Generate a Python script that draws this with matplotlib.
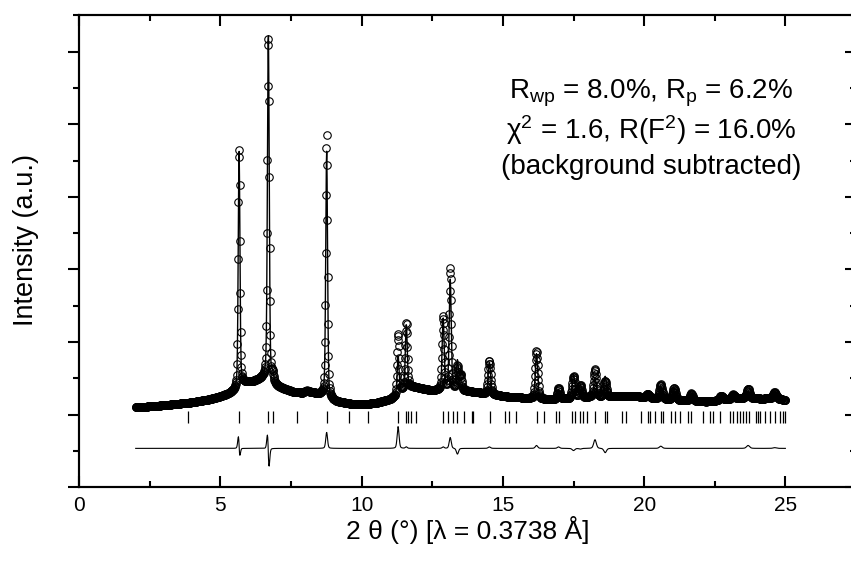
import numpy as np
import matplotlib
matplotlib.use("Agg")
import matplotlib.pyplot as plt
from matplotlib.ticker import MultipleLocator

plt.rcParams['font.family'] = ['Liberation Sans', 'DejaVu Sans']
plt.rcParams['mathtext.fontset'] = 'custom'
plt.rcParams['mathtext.rm'] = 'Liberation Sans'
plt.rcParams['mathtext.it'] = 'Liberation Sans:italic'
plt.rcParams['mathtext.default'] = 'regular'

# ---------------- data ----------------
scan_start, scan_end, scan_step = 2.0, 25.0, 0.0125   # measured 2theta grid

bg_x = [2.0, 3.0, 4.0, 4.6, 5.0, 5.3, 5.5, 5.6, 5.72, 5.9, 6.2, 6.5, 6.62,
        6.78, 6.95, 7.2, 7.6, 7.9, 8.05, 8.2, 8.5, 8.7, 8.85, 9.1, 9.6, 10.0,
        10.5, 11.0, 11.2, 11.4, 11.7, 12.0, 12.5, 12.8, 13.6, 14.0, 14.6,
        15.1, 15.8, 16.6, 17.3, 18.0, 18.9, 19.8, 20.5, 21.3, 22.2, 23.0,
        23.4, 24.2, 24.6, 25.0]
bg_y = [1.10, 1.13, 1.17, 1.21, 1.25, 1.29, 1.33, 1.36, 1.43, 1.44, 1.46,
        1.50, 1.53, 1.47, 1.40, 1.36, 1.31, 1.30, 1.33, 1.31, 1.28, 1.27,
        1.22, 1.18, 1.15, 1.14, 1.16, 1.21, 1.25, 1.33, 1.39, 1.37, 1.33,
        1.34, 1.33, 1.31, 1.28, 1.25, 1.23, 1.21, 1.22, 1.24, 1.25, 1.25,
        1.22, 1.20, 1.18, 1.21, 1.23, 1.22, 1.23, 1.20]

peak_pos   = [5.66, 6.695, 6.85, 8.76, 11.29, 11.58, 12.885, 13.135, 13.39,
              13.50, 14.52, 16.19, 16.97, 17.50, 17.74, 18.26, 18.62, 20.13,
              20.59, 21.06, 21.67, 22.73, 23.15, 23.68, 24.62]
peak_fwhm  = [0.07, 0.075, 0.08, 0.075, 0.08, 0.08, 0.085, 0.085, 0.09,
              0.09, 0.10, 0.10, 0.10, 0.11, 0.11, 0.11, 0.11, 0.12,
              0.12, 0.12, 0.12, 0.13, 0.13, 0.13, 0.13]
peak_hcalc = [3.24, 4.78, 0.10, 3.39, 0.52, 0.88, 0.98, 1.52, 0.40,
              0.20, 0.44, 0.62, 0.13, 0.33, 0.18, 0.26, 0.28, 0.05,
              0.17, 0.16, 0.10, 0.06, 0.06, 0.09, 0.07]
peak_hobs  = [3.29, 4.73, 0.10, 3.61, 0.82, 0.90, 1.00, 1.67, 0.32,
              0.20, 0.46, 0.66, 0.15, 0.30, 0.17, 0.38, 0.22, 0.05,
              0.20, 0.16, 0.10, 0.06, 0.06, 0.13, 0.08]
peak_dobs  = [-0.002, -0.0025, 0, 0, 0, 0, 0, 0, 0,
              0, 0, 0, 0, 0, 0, 0, 0, 0,
              0, 0, 0, 0, 0, 0, 0]

bragg_pos = [3.86, 5.66, 6.67, 6.85, 7.72, 8.76, 9.56, 10.21, 11.30, 11.56,
             11.65, 11.74, 11.94, 12.88, 13.05, 13.23, 13.38, 13.62, 13.89,
             13.95, 14.54, 15.07, 15.22, 15.46, 16.19, 16.46, 16.87, 16.99,
             17.43, 17.54, 17.72, 17.82, 17.96, 18.25, 18.61, 18.67, 19.20,
             19.35, 19.88, 20.14, 20.22, 20.38, 20.59, 20.67, 20.94, 21.11,
             21.26, 21.55, 21.67, 22.08, 22.32, 22.44, 22.70, 23.05, 23.15,
             23.27, 23.38, 23.50, 23.62, 23.71, 23.95, 24.03, 24.09, 24.27,
             24.45, 24.62, 24.80, 24.92, 24.98]

diff_offset = 0.536
bragg_low, bragg_high = 0.885, 1.045

text_lines = [r'R$_{\rm wp}$ = 8.0%, R$_{\rm p}$ = 6.2%',
              r'χ$^{2}$ = 1.6, R(F$^{2}$) = 16.0%',
              '(background subtracted)']

# ---------------- profiles ----------------
def pseudo_voigt(x, x0, w, eta=0.3):
    u = (x - x0) / w
    return eta / (1 + 4 * u**2) + (1 - eta) * np.exp(-4 * np.log(2) * u**2)

tt = np.arange(scan_start, scan_end + 1e-9, scan_step)
bg = np.interp(tt, bg_x, bg_y)
y_calc = bg.copy()
y_obs = bg.copy()
for p, w, hc, ho, d in zip(peak_pos, peak_fwhm, peak_hcalc, peak_hobs, peak_dobs):
    y_calc += hc * pseudo_voigt(tt, p, w)
    y_obs += ho * pseudo_voigt(tt, p + d, w)
y_diff = y_obs - y_calc + diff_offset

# ---------------- figure ----------------
fig = plt.figure(figsize=(8.51, 5.62), dpi=100)
ax = fig.add_axes([79.2 / 851, 1 - 487.3 / 562, (856 - 79.2) / 851, (487.3 - 15.3) / 562])

ax.plot(tt, y_obs, linestyle='none', marker='o', ms=5.4, mfc='none',
        mec='black', mew=0.8, zorder=2)
ax.plot(tt, y_calc, color='black', lw=1.0, zorder=3)
ax.plot(tt, y_diff, color='black', lw=0.8, zorder=3)
ax.vlines(bragg_pos, bragg_low, bragg_high, colors='black', lw=0.9)

ax.set_xlim(0, 27.5)
ax.set_ylim(0, 6.5)
ax.xaxis.set_major_locator(MultipleLocator(5))
ax.xaxis.set_minor_locator(MultipleLocator(2.5))
ax.yaxis.set_major_locator(MultipleLocator(1))
ax.yaxis.set_minor_locator(MultipleLocator(0.5))

for s in ax.spines.values():
    s.set_linewidth(1.5)

ax.tick_params(axis='x', which='both', direction='in', top=True, bottom=True,
               width=1.5, labelsize=15, pad=6)
ax.tick_params(axis='x', which='major', length=8)
ax.tick_params(axis='x', which='minor', length=4.3)
ax.tick_params(axis='y', which='both', direction='out', left=True, right=False,
               labelleft=False, width=1.5)
ax.tick_params(axis='y', which='major', length=8)
ax.tick_params(axis='y', which='minor', length=4.3)

ax2 = ax.twinx()
ax2.set_ylim(0, 6.5)
ax2.yaxis.set_major_locator(MultipleLocator(1))
ax2.yaxis.set_minor_locator(MultipleLocator(0.5))
ax2.tick_params(axis='y', which='both', direction='in', labelright=False, width=1.5)
ax2.tick_params(axis='y', which='major', length=8)
ax2.tick_params(axis='y', which='minor', length=4.3)
for s in ax2.spines.values():
    s.set_linewidth(1.5)

ax.set_xlabel('2 θ (°) [λ = 0.3738 Å]', fontsize=19, labelpad=1)
fig.text(26 / 851, 1 - 240 / 562, 'Intensity (a.u.)', rotation=90,
         ha='center', va='center', fontsize=19.5)

for i, line in enumerate(text_lines):
    fig.text(651 / 851, 1 - (93 + 37 * i) / 562, line, ha='center',
             va='center', fontsize=20)

fig.savefig('out.png', dpi=100)
